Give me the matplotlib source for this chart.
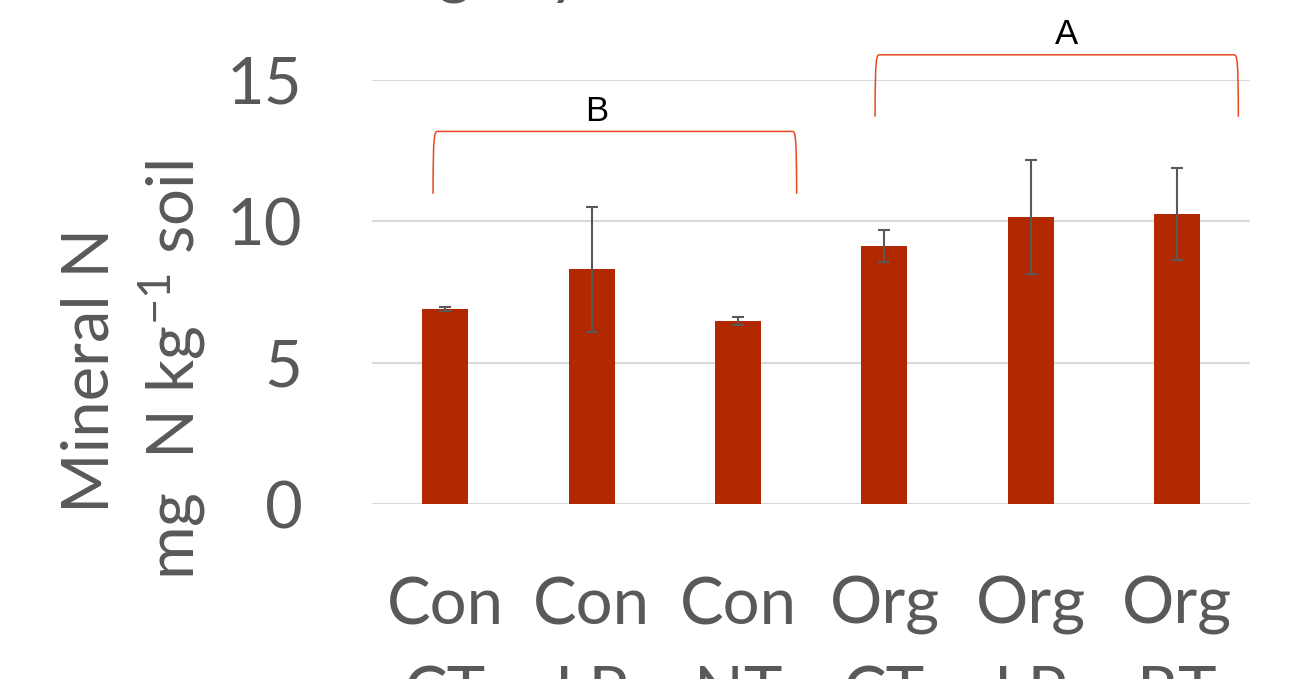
import matplotlib
matplotlib.use("Agg")
import matplotlib.pyplot as plt
from matplotlib.path import Path
from matplotlib.patches import PathPatch

# Mineral N by management system and tillage
systems = ["Con", "Con", "Con", "Org", "Org", "Org"]
tillage = ["CT", "LP", "NT", "CT", "LP", "RT"]
mineral_n = [6.90, 8.30, 6.47, 9.13, 10.14, 10.26]
error = [0.08, 2.22, 0.15, 0.58, 2.02, 1.63]
y_ticks = [0, 5, 10, 15]

# Significance groups: letter, bracket span (x), leg bottom, bracket top, letter height
group_labels = ["B", "A"]
group_x = [(-0.083, 2.40), (2.936, 5.417)]
group_label_x = [1.035, 4.245]
group_y = [(10.97, 13.18, 13.89), (13.70, 15.89, 16.62)]

FONT = "Lato"
GREY = "#595959"
BAR = "#B22800"
BRACKET = "#E8481C"

plt.rcParams["font.family"] = [FONT, "DejaVu Sans"]
plt.rcParams["mathtext.fontset"] = "custom"
plt.rcParams["mathtext.rm"] = FONT
plt.rcParams["mathtext.it"] = FONT

fig = plt.figure(figsize=(13.09, 6.79), dpi=100)
ax = fig.add_axes([0.2842, 0.2577, 0.6711, 0.6245])

x = list(range(len(mineral_n)))
ax.bar(x, mineral_n, width=0.314, color=BAR, zorder=3)
ax.errorbar(x, mineral_n, yerr=error, fmt="none", ecolor=GREY,
            elinewidth=1.5, capsize=4.5, capthick=1.5, zorder=4)

ax.set_xlim(-0.5, len(x) - 0.5)
ax.set_ylim(0, 15)
ax.set_yticks(y_ticks)
ax.set_yticklabels([str(v) for v in y_ticks])
ax.yaxis.grid(True, color="#D9D9D9", linewidth=1.5, zorder=0)
ax.set_axisbelow(True)
for s in ax.spines.values():
    s.set_visible(False)
ax.tick_params(axis="y", length=0, pad=50, labelsize=47, labelcolor=GREY)
ax.tick_params(axis="x", length=0, pad=52, labelsize=47, labelcolor=GREY)
ax.set_xticks(x)
ax.set_xticklabels([f"{s}\n{t}" for s, t in zip(systems, tillage)],
                   linespacing=1.62)

# Axis title
fig.text(0.1028, 0.455, "Mineral N\nmg  N kg$^{-1}$ soil", rotation=90,
         ha="center", va="center", multialignment="center",
         fontsize=47, color=GREY, linespacing=1.3)

# Chart title, mostly above the canvas
title_text = "Mineral N during dry season"
renderer = fig.canvas.get_renderer()
probe = fig.text(0, 0, title_text[:title_text.index("g")], fontsize=47)
prefix_w = probe.get_window_extent(renderer).width
probe.remove()
fig.text((438 - prefix_w) / 1309, 1.013, title_text, fontsize=47,
         color=GREY, ha="left", va="baseline")


def bracket(x0, x1, y_leg, y_top, r=0.03, ry=0.5):
    verts = [
        (x0, y_leg),
        (x0, y_top - ry * 0.2), (x0 + r * 0.3, y_top), (x0 + r, y_top),
        (x1 - r, y_top),
        (x1 - r * 0.3, y_top), (x1, y_top - ry * 0.2), (x1, y_leg),
    ]
    codes = [Path.MOVETO, Path.CURVE4, Path.CURVE4, Path.CURVE4,
             Path.LINETO, Path.CURVE4, Path.CURVE4, Path.CURVE4]
    return PathPatch(Path(verts, codes), fill=False, edgecolor=BRACKET,
                     linewidth=1.1, clip_on=False, zorder=5)


for label, (bx0, bx1), lx, (yl, yt, ylab) in zip(group_labels, group_x,
                                                 group_label_x, group_y):
    ax.add_patch(bracket(bx0, bx1, yl, yt))
    ax.text(lx, ylab, label, ha="center", va="center", fontsize=25,
            family="Liberation Sans", color="black", clip_on=False)

fig.savefig("out.png", dpi=100)
